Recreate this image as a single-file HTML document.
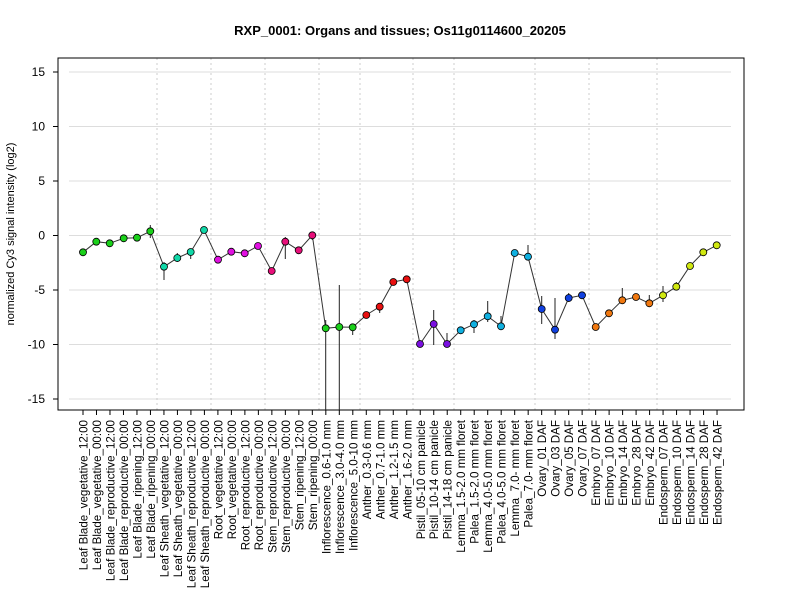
<!DOCTYPE html><html><head><style>body{margin:0;background:#fff}svg{font-family:"Liberation Sans",sans-serif}</style></head><body>
<svg width="800" height="600" xmlns="http://www.w3.org/2000/svg">
<text x="400" y="35" text-anchor="middle" font-weight="bold" font-size="13">RXP_0001: Organs and tissues; Os11g0114600_20205</text>
<text transform="translate(14,234) rotate(-90)" text-anchor="middle" font-size="11">normalized Cy3 signal intensity (log2)</text>
<g stroke="#ddd" stroke-width="1">
<line x1="69" x2="731" y1="72" y2="72"/><line x1="69" x2="731" y1="126.5" y2="126.5"/><line x1="69" x2="731" y1="181" y2="181"/><line x1="69" x2="731" y1="235.5" y2="235.5"/><line x1="69" x2="731" y1="290" y2="290"/><line x1="69" x2="731" y1="344.5" y2="344.5"/><line x1="69" x2="731" y1="399" y2="399"/>
</g>
<g stroke="#ccc" stroke-dasharray="2,3">
<line x1="157" x2="157" y1="58" y2="410"/><line x1="211" x2="211" y1="58" y2="410"/><line x1="265" x2="265" y1="58" y2="410"/><line x1="319" x2="319" y1="58" y2="410"/><line x1="360" x2="360" y1="58" y2="410"/><line x1="413" x2="413" y1="58" y2="410"/><line x1="454" x2="454" y1="58" y2="410"/><line x1="535" x2="535" y1="58" y2="410"/><line x1="589" x2="589" y1="58" y2="410"/><line x1="657" x2="657" y1="58" y2="410"/>
</g>
<rect x="58" y="58" width="686" height="352" fill="none" stroke="#000"/>
<g stroke="#000"><line x1="53" x2="58" y1="72" y2="72"/><line x1="53" x2="58" y1="126.5" y2="126.5"/><line x1="53" x2="58" y1="181" y2="181"/><line x1="53" x2="58" y1="235.5" y2="235.5"/><line x1="53" x2="58" y1="290" y2="290"/><line x1="53" x2="58" y1="344.5" y2="344.5"/><line x1="53" x2="58" y1="399" y2="399"/></g>
<g font-size="12" text-anchor="end"><text x="45" y="76">15</text><text x="45" y="130.5">10</text><text x="45" y="185">5</text><text x="45" y="239.5">0</text><text x="45" y="294">-5</text><text x="45" y="348.5">-10</text><text x="45" y="403">-15</text></g>
<g stroke="#222" stroke-width="1">
<line x1="150.3" x2="150.3" y1="225" y2="238"/><line x1="164" x2="164" y1="262" y2="280"/><line x1="177.3" x2="177.3" y1="253" y2="262"/><line x1="190.7" x2="190.7" y1="250" y2="259"/><line x1="285.3" x2="285.3" y1="237" y2="259"/><line x1="312.3" x2="312.3" y1="232" y2="240"/>
<line x1="325.7" x2="325.7" y1="320" y2="410"/><line x1="339.3" x2="339.3" y1="285" y2="410"/><line x1="352.7" x2="352.7" y1="325" y2="335"/><line x1="379.7" x2="379.7" y1="303" y2="313"/>
<line x1="433.7" x2="433.7" y1="310" y2="345"/><line x1="447" x2="447" y1="333" y2="344"/><line x1="474" x2="474" y1="320" y2="333"/><line x1="487.7" x2="487.7" y1="301" y2="322"/><line x1="501" x2="501" y1="316" y2="330"/><line x1="528" x2="528" y1="245" y2="260"/>
<line x1="541.7" x2="541.7" y1="296" y2="324"/><line x1="555" x2="555" y1="298" y2="339"/><line x1="568.7" x2="568.7" y1="293" y2="302"/><line x1="622.3" x2="622.3" y1="288" y2="304"/><line x1="649.3" x2="649.3" y1="295" y2="307"/><line x1="663" x2="663" y1="286" y2="302"/><line x1="676.3" x2="676.3" y1="282" y2="290"/>
</g>
<polyline fill="none" stroke="#333" stroke-width="1" points="83,252.3 96.3,241.7 109.7,243.3 123.7,238.3 137,237.7 150.3,231.3 164,266.7 177.3,258 190.7,252 204,230 218,259.7 231.3,251.7 244.7,253.3 258,246 271.7,271 285.3,241.7 298.7,250.3 312.3,235.3 325.7,328.3 339.3,327 352.7,327.3 366.3,315 379.7,306.7 393.3,282 406.7,279.3 420,344 433.7,324 447,344 460.7,330.3 474,324.3 487.7,316.3 501,326.3 514.7,253 528,256.7 541.7,309 555,329.7 568.7,298 582,295.3 595.7,327 609,313.3 622.3,300.3 636,297 649.3,303.3 663,295.3 676.3,286.7 690,266 703.3,252.3 716.7,245.3"/>
<g stroke="#000" stroke-width="0.8">
<g fill="#1ad01a"><circle cx="83" cy="252.3" r="3.5"/><circle cx="96.3" cy="241.7" r="3.5"/><circle cx="109.7" cy="243.3" r="3.5"/><circle cx="123.7" cy="238.3" r="3.5"/><circle cx="137" cy="237.7" r="3.5"/><circle cx="150.3" cy="231.3" r="3.5"/><circle cx="325.7" cy="328.3" r="3.5"/><circle cx="339.3" cy="327" r="3.5"/><circle cx="352.7" cy="327.3" r="3.5"/></g>
<g fill="#10d8a8"><circle cx="164" cy="266.7" r="3.5"/><circle cx="177.3" cy="258" r="3.5"/><circle cx="190.7" cy="252" r="3.5"/><circle cx="204" cy="230" r="3.5"/></g>
<g fill="#e010e0"><circle cx="218" cy="259.7" r="3.5"/><circle cx="231.3" cy="251.7" r="3.5"/><circle cx="244.7" cy="253.3" r="3.5"/><circle cx="258" cy="246" r="3.5"/></g>
<g fill="#e8107a"><circle cx="271.7" cy="271" r="3.5"/><circle cx="285.3" cy="241.7" r="3.5"/><circle cx="298.7" cy="250.3" r="3.5"/><circle cx="312.3" cy="235.3" r="3.5"/></g>
<g fill="#e81010"><circle cx="366.3" cy="315" r="3.5"/><circle cx="379.7" cy="306.7" r="3.5"/><circle cx="393.3" cy="282" r="3.5"/><circle cx="406.7" cy="279.3" r="3.5"/></g>
<g fill="#7a10e0"><circle cx="420" cy="344" r="3.5"/><circle cx="433.7" cy="324" r="3.5"/><circle cx="447" cy="344" r="3.5"/></g>
<g fill="#10b0e0"><circle cx="460.7" cy="330.3" r="3.5"/><circle cx="474" cy="324.3" r="3.5"/><circle cx="487.7" cy="316.3" r="3.5"/><circle cx="501" cy="326.3" r="3.5"/><circle cx="514.7" cy="253" r="3.5"/><circle cx="528" cy="256.7" r="3.5"/></g>
<g fill="#1040e0"><circle cx="541.7" cy="309" r="3.5"/><circle cx="555" cy="329.7" r="3.5"/><circle cx="568.7" cy="298" r="3.5"/><circle cx="582" cy="295.3" r="3.5"/></g>
<g fill="#f07810"><circle cx="595.7" cy="327" r="3.5"/><circle cx="609" cy="313.3" r="3.5"/><circle cx="622.3" cy="300.3" r="3.5"/><circle cx="636" cy="297" r="3.5"/><circle cx="649.3" cy="303.3" r="3.5"/></g>
<g fill="#d0e810"><circle cx="663" cy="295.3" r="3.5"/><circle cx="676.3" cy="286.7" r="3.5"/><circle cx="690" cy="266" r="3.5"/><circle cx="703.3" cy="252.3" r="3.5"/><circle cx="716.7" cy="245.3" r="3.5"/></g>
</g>
<path stroke="#000" fill="none" d="M83,410v5M96.49,410v5M109.98,410v5M123.47,410v5M136.96,410v5M150.45,410v5M163.94,410v5M177.43,410v5M190.92,410v5M204.41,410v5M217.9,410v5M231.39,410v5M244.88,410v5M258.37,410v5M271.86,410v5M285.35,410v5M298.84,410v5M312.33,410v5M325.82,410v5M339.31,410v5M352.8,410v5M366.29,410v5M379.78,410v5M393.27,410v5M406.76,410v5M420.25,410v5M433.74,410v5M447.23,410v5M460.72,410v5M474.21,410v5M487.7,410v5M501.19,410v5M514.68,410v5M528.17,410v5M541.66,410v5M555.15,410v5M568.64,410v5M582.13,410v5M595.62,410v5M609.11,410v5M622.6,410v5M636.09,410v5M649.58,410v5M663.07,410v5M676.56,410v5M690.05,410v5M703.54,410v5M717.03,410v5"/>
<g font-size="11.6" text-anchor="end">
<text transform="translate(87.5,420) rotate(-90)">Leaf Blade_vegetative_12:00</text>
<text transform="translate(100.99,420) rotate(-90)">Leaf Blade_vegetative_00:00</text>
<text transform="translate(114.48,420) rotate(-90)">Leaf Blade_reproductive_12:00</text>
<text transform="translate(127.97,420) rotate(-90)">Leaf Blade_reproductive_00:00</text>
<text transform="translate(141.46,420) rotate(-90)">Leaf Blade_ripening_12:00</text>
<text transform="translate(154.95,420) rotate(-90)">Leaf Blade_ripening_00:00</text>
<text transform="translate(168.44,420) rotate(-90)">Leaf Sheath_vegetative_12:00</text>
<text transform="translate(181.93,420) rotate(-90)">Leaf Sheath_vegetative_00:00</text>
<text transform="translate(195.42,420) rotate(-90)">Leaf Sheath_reproductive_12:00</text>
<text transform="translate(208.91,420) rotate(-90)">Leaf Sheath_reproductive_00:00</text>
<text transform="translate(222.4,420) rotate(-90)">Root_vegetative_12:00</text>
<text transform="translate(235.89,420) rotate(-90)">Root_vegetative_00:00</text>
<text transform="translate(249.38,420) rotate(-90)">Root_reproductive_12:00</text>
<text transform="translate(262.87,420) rotate(-90)">Root_reproductive_00:00</text>
<text transform="translate(276.36,420) rotate(-90)">Stem_reproductive_12:00</text>
<text transform="translate(289.85,420) rotate(-90)">Stem_reproductive_00:00</text>
<text transform="translate(303.34,420) rotate(-90)">Stem_ripening_12:00</text>
<text transform="translate(316.83,420) rotate(-90)">Stem_ripening_00:00</text>
<text transform="translate(330.32,420) rotate(-90)">Inflorescence_0.6-1.0 mm</text>
<text transform="translate(343.81,420) rotate(-90)">Inflorescence_3.0-4.0 mm</text>
<text transform="translate(357.3,420) rotate(-90)">Inflorescence_5.0-10 mm</text>
<text transform="translate(370.79,420) rotate(-90)">Anther_0.3-0.6 mm</text>
<text transform="translate(384.28,420) rotate(-90)">Anther_0.7-1.0 mm</text>
<text transform="translate(397.77,420) rotate(-90)">Anther_1.2-1.5 mm</text>
<text transform="translate(411.26,420) rotate(-90)">Anther_1.6-2.0 mm</text>
<text transform="translate(424.75,420) rotate(-90)">Pistil_05-10 cm panicle</text>
<text transform="translate(438.24,420) rotate(-90)">Pistil_10-14 cm panicle</text>
<text transform="translate(451.73,420) rotate(-90)">Pistil_14-18 cm panicle</text>
<text transform="translate(465.22,420) rotate(-90)">Lemma_1.5-2.0 mm floret</text>
<text transform="translate(478.71,420) rotate(-90)">Palea_1.5-2.0 mm floret</text>
<text transform="translate(492.2,420) rotate(-90)">Lemma_4.0-5.0 mm floret</text>
<text transform="translate(505.69,420) rotate(-90)">Palea_4.0-5.0 mm floret</text>
<text transform="translate(519.18,420) rotate(-90)">Lemma_7.0- mm floret</text>
<text transform="translate(532.67,420) rotate(-90)">Palea_7.0- mm floret</text>
<text transform="translate(546.16,420) rotate(-90)">Ovary_01 DAF</text>
<text transform="translate(559.65,420) rotate(-90)">Ovary_03 DAF</text>
<text transform="translate(573.14,420) rotate(-90)">Ovary_05 DAF</text>
<text transform="translate(586.63,420) rotate(-90)">Ovary_07 DAF</text>
<text transform="translate(600.12,420) rotate(-90)">Embryo_07 DAF</text>
<text transform="translate(613.61,420) rotate(-90)">Embryo_10 DAF</text>
<text transform="translate(627.1,420) rotate(-90)">Embryo_14 DAF</text>
<text transform="translate(640.59,420) rotate(-90)">Embryo_28 DAF</text>
<text transform="translate(654.08,420) rotate(-90)">Embryo_42 DAF</text>
<text transform="translate(667.57,420) rotate(-90)">Endosperm_07 DAF</text>
<text transform="translate(681.06,420) rotate(-90)">Endosperm_10 DAF</text>
<text transform="translate(694.55,420) rotate(-90)">Endosperm_14 DAF</text>
<text transform="translate(708.04,420) rotate(-90)">Endosperm_28 DAF</text>
<text transform="translate(721.53,420) rotate(-90)">Endosperm_42 DAF</text>
</g>
</svg></body></html>
